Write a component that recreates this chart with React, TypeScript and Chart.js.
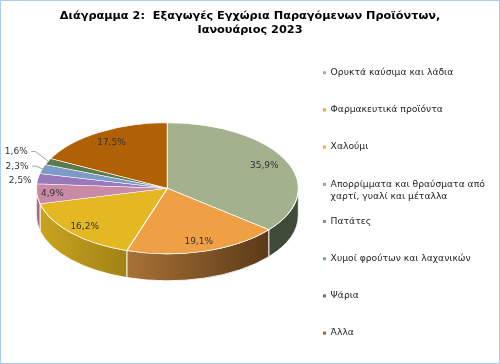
import React, { useEffect, useRef } from "react";
import { Chart, registerables } from "chart.js";

Chart.register(...registerables);

const categories = [
  "Ορυκτά καύσιμα και λάδια",
  "Φαρμακευτικά προϊόντα",
  "Χαλούμι",
  ["Απορρίμματα και θραύσματα από", "χαρτί, γυαλί και μέταλλα"],
  "Πατάτες",
  "Χυμοί φρούτων και λαχανικών",
  "Ψάρια",
  "Άλλα",
];
const shares = [35.9, 19.1, 16.2, 4.9, 2.5, 2.3, 1.6, 17.5];
const colors = ["#a4b18e", "#f0a044", "#e3b823", "#c98aa6", "#9a78bc", "#7a9cc6", "#5d7a4f", "#b06005"];
const wallFrom = ["#404a38", "#a87236", "#c9a420", "#a86a88", "#7a5f95", "#5f7c9e", "#4a613f", "#8c4d04"];
const wallTo = ["#404a38", "#5c3a18", "#a08316", "#a86a88", "#7a5f95", "#5f7c9e", "#4a613f", "#8c4d04"];
const titleLines = ["Διάγραμμα 2:  Εξαγωγές Εγχώρια Παραγόμενων Προϊόντων,", "Ιανουάριος 2023"];

const labelFont = "9px 'DejaVu Sans'";
const PIE = { cx: 167.3, cy: 188.3, rx: 131, ry: 65.5, depth: 27 };
const LEGEND = { boxLeft: 323, firstMiddle: 72.7, padding: 28, fontSize: 9.2, boxSize: 3, wrapGap: 12.4 };
const LEGEND_COLOR = "#1f1f1f";
const labelReach = [0.82, 0.85, 0.86, 0.88, 1.135, 1.2, 1.263, 0.816];
const labelShift = [0, 0, 0, 0, 3, 1, -3, 0];
const leaderFlags = [false, false, false, false, false, true, true, false];

const pie3d = {
  id: "pie3d",
  afterLayout(chart: any) {
    // place the library's legend box where the reference has it
    const legend = chart.legend;
    const drop = LEGEND.firstMiddle - LEGEND.fontSize / 2 - LEGEND.padding - legend.top;
    legend.top += drop;
    legend.bottom += drop;
    legend.left = LEGEND.boxLeft - LEGEND.padding;
  },
  beforeDatasetsDraw(chart: any) {
    const { ctx } = chart;
    const arcs = chart.getDatasetMeta(0).data;
    const { cx, cy, rx, ry, depth } = PIE;
    arcs.forEach((arc: any, i: number) => {
      const s = Math.max(arc.startAngle, 0);
      const e = Math.min(arc.endAngle, Math.PI);
      if (e <= s) return;
      const x0 = cx + rx * Math.cos(s);
      const x1 = cx + rx * Math.cos(e);
      const g = ctx.createLinearGradient(x1, 0, x0, 0);
      g.addColorStop(0, wallFrom[i]);
      g.addColorStop(1, wallTo[i]);
      ctx.beginPath();
      ctx.ellipse(cx, cy, rx, ry, 0, s, e);
      ctx.ellipse(cx, cy + depth, rx, ry, 0, e, s, true);
      ctx.closePath();
      ctx.fillStyle = g;
      ctx.fill();
      ctx.strokeStyle = "rgba(255,255,255,0.85)";
      ctx.lineWidth = 1;
      ctx.stroke();
    });
    ctx.save();
    const first = arcs[0];
    ctx.translate(cx, cy);
    ctx.scale(rx / first.outerRadius, ry / first.outerRadius);
    ctx.translate(-first.x, -first.y);
  },
  afterDatasetsDraw(chart: any) {
    const { ctx } = chart;
    ctx.restore();
    const arcs = chart.getDatasetMeta(0).data;
    const { cx, cy, rx, ry } = PIE;
    ctx.font = labelFont;
    ctx.textAlign = "center";
    ctx.textBaseline = "middle";
    arcs.forEach((arc: any, i: number) => {
      const mid = (arc.startAngle + arc.endAngle) / 2;
      const f = labelReach[i];
      const x = cx + rx * f * Math.cos(mid);
      const y = cy + ry * f * Math.sin(mid) + labelShift[i];
      const text = shares[i].toFixed(1).replace(".", ",") + "%";
      if (leaderFlags[i]) {
        const tipX = cx + rx * 0.99 * Math.cos(mid);
        const tipY = cy + ry * 0.99 * Math.sin(mid);
        ctx.beginPath();
        ctx.moveTo(x + 15, y);
        ctx.lineTo(x + 19, y);
        ctx.lineTo(tipX, tipY);
        ctx.strokeStyle = "#a6a6a6";
        ctx.lineWidth = 1;
        ctx.stroke();
      }
      ctx.fillStyle = "#333333";
      ctx.fillText(text, x, y);
    });
  },
  afterDraw(chart: any) {
    // continuation lines of wrapped legend entries
    const { ctx } = chart;
    const step = LEGEND.fontSize + LEGEND.padding;
    ctx.save();
    ctx.font = `${LEGEND.fontSize}px 'DejaVu Sans'`;
    ctx.fillStyle = LEGEND_COLOR;
    ctx.textAlign = "left";
    ctx.textBaseline = "middle";
    categories.forEach((c, i) => {
      if (!Array.isArray(c)) return;
      const x = LEGEND.boxLeft + LEGEND.boxSize + LEGEND.fontSize / 2;
      const y = LEGEND.firstMiddle + step * i + LEGEND.wrapGap;
      ctx.fillText(c[1], x, y);
    });
    ctx.restore();
  },
};

export default function App() {
  const ref = useRef<HTMLCanvasElement>(null);
  useEffect(() => {
    document.body.style.margin = "0";
    const chart = new Chart(ref.current!, {
      type: "pie",
      data: {
        labels: categories as any,
        datasets: [
          {
            data: shares,
            backgroundColor: colors,
            borderColor: "#ffffff",
            borderWidth: 1.2,
          },
        ],
      },
      options: {
        responsive: false,
        animation: false,
        layout: { padding: { left: 0, right: 0, top: 0, bottom: 20 } },
        plugins: {
          tooltip: { enabled: false },
          title: {
            display: true,
            text: titleLines,
            color: "#000000",
            font: { family: "'DejaVu Sans'", size: 11.3, weight: "bold", lineHeight: 1.24 },
            padding: { top: 9, bottom: 0 },
          },
          legend: {
            position: "right",
            align: "start",
            labels: {
              boxWidth: LEGEND.boxSize,
              boxHeight: LEGEND.boxSize,
              padding: LEGEND.padding,
              color: LEGEND_COLOR,
              font: { family: "'DejaVu Sans'", size: LEGEND.fontSize, lineHeight: 1.3 },
              generateLabels: () =>
                categories.map((c, i) => ({
                  text: Array.isArray(c) ? c[0] : c,
                  fillStyle: colors[i],
                  strokeStyle: colors[i],
                  lineWidth: 0,
                  fontColor: LEGEND_COLOR,
                  hidden: false,
                  index: i,
                })),
            },
          },
        },
      },
      plugins: [pie3d],
    } as any);
    return () => chart.destroy();
  }, []);
  return (
    <div style={{ position: "relative", width: 500, height: 364, overflow: "hidden" }}>
      <canvas ref={ref} width={500} height={364} style={{ display: "block" }} />
      <div
        style={{
          position: "absolute",
          inset: 0,
          boxSizing: "border-box",
          border: "1px solid #a9cbee",
          pointerEvents: "none",
        }}
      />
    </div>
  );
}
